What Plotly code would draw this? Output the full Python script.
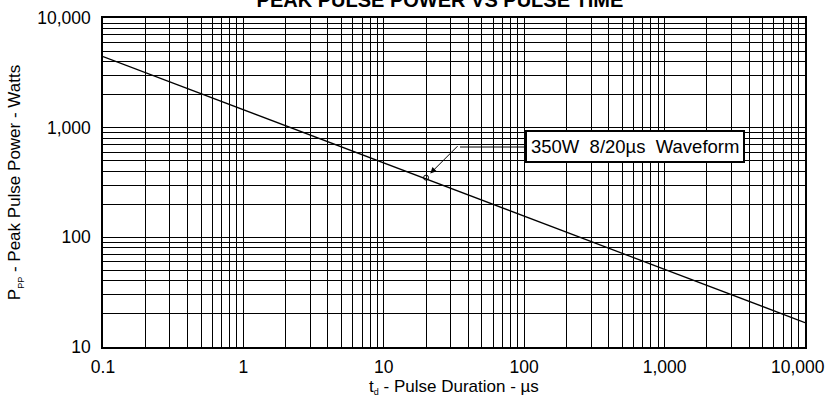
import math
import plotly.graph_objects as go

# Data
pulse_time_us = [0.1, 1, 10, 100, 1000, 10000]
peak_power_w = [4450, 1455, 476, 156, 51, 16.7]

marker_time_us = [20]
marker_power_w = [350]

x_tick_vals = [0.1, 1, 10, 100, 1000, 10000]
x_tick_text = ["0.1", "1", "10", "100", "1,000", "10,000"]
y_tick_vals = [10, 100, 1000, 10000]
y_tick_text = ["10", "100", "1,000", "10,000"]

x_minor = [m * d for d in [0.1, 1, 10, 100, 1000] for m in range(2, 10)]
y_minor = [m * d for d in [10, 100, 1000] for m in range(2, 10)]

FONT = "Arial, Liberation Sans, sans-serif"

# last x label is nudged left (as in the reference) so it stays inside the page
x_tick_display = x_tick_text[:-1] + [x_tick_text[-1] + "\u00a0" * 3]

fig = go.Figure()
fig.add_trace(go.Scatter(x=pulse_time_us, y=peak_power_w, mode="lines",
                         line=dict(color="black", width=1.3), showlegend=False,
                         hoverinfo="skip"))
fig.add_trace(go.Scatter(x=marker_time_us, y=marker_power_w, mode="markers",
                         marker=dict(symbol="circle-open", size=5, color="black",
                                     line=dict(width=1)),
                         showlegend=False))

axis_common = dict(
    type="log",
    showline=True, linecolor="black", linewidth=1.5, mirror=True,
    showgrid=True, gridcolor="black", gridwidth=1,
    ticks="", zeroline=False, automargin=False,
    ticklabeloverflow="allow",
    tickfont=dict(family=FONT, size=17.5, color="black"),
)

fig.update_xaxes(
    **axis_common,
    range=[-1, 4],
    tickmode="array", tickvals=x_tick_vals, ticktext=x_tick_display,
    minor=dict(tickvals=x_minor, showgrid=True, gridcolor="black", gridwidth=1),
    ticklabelstandoff=3,
    title=dict(text="t<sub><span style='font-size:9px'>d</span></sub> - Pulse Duration - µs",
               font=dict(family=FONT, size=17, color="black"), standoff=2),
)
fig.update_yaxes(
    **axis_common,
    range=[1, 4],
    tickmode="array", tickvals=y_tick_vals, ticktext=y_tick_text,
    minor=dict(tickvals=y_minor, showgrid=True, gridcolor="black", gridwidth=1),
    ticklabelstandoff=7,
    title=dict(text="P<sub><span style='font-size:9px'>PP</span></sub> - Peak Pulse Power - Watts",
               font=dict(family=FONT, size=17, color="black"), standoff=12),
)

fig.update_layout(
    width=827, height=400,
    margin=dict(l=103, r=22, t=18, b=53, autoexpand=False),
    paper_bgcolor="white", plot_bgcolor="white",
    title=dict(text="<b>PEAK PULSE POWER VS PULSE TIME</b>",
               font=dict(family=FONT, size=20, color="black"),
               x=0.532, xanchor="center", xref="container",
               y=1.0, yanchor="middle", yref="container", automargin=False),
)

# Label box
fig.add_annotation(
    text="350W  8/20µs  Waveform",
    xref="paper", yref="paper",
    x=(634.5 - 103) / 702, y=(347 - 146) / 329,
    xanchor="center", yanchor="middle",
    showarrow=False,
    font=dict(family=FONT, size=18.5, color="black"),
    bgcolor="white", bordercolor="black", borderwidth=2, borderpad=4,
)
# Horizontal leader segment
fig.add_shape(type="line", xref="paper", yref="paper",
              x0=(460 - 103) / 702, x1=(525 - 103) / 702,
              y0=(347 - 147) / 329, y1=(347 - 147) / 329,
              line=dict(color="black", width=1))
# Leader arrow to the marked point
fig.add_annotation(
    text="", x=math.log10(marker_time_us[0]), y=math.log10(marker_power_w[0]),
    xref="x", yref="y", showarrow=True, ax=33, ay=-33,
    arrowhead=2, arrowsize=1.2, arrowwidth=1, arrowcolor="black", standoff=6,
)

fig.write_html("out.html",
               config={"displayModeBar": False},
               post_script="document.body.style.margin='0';document.body.style.padding='0';")
